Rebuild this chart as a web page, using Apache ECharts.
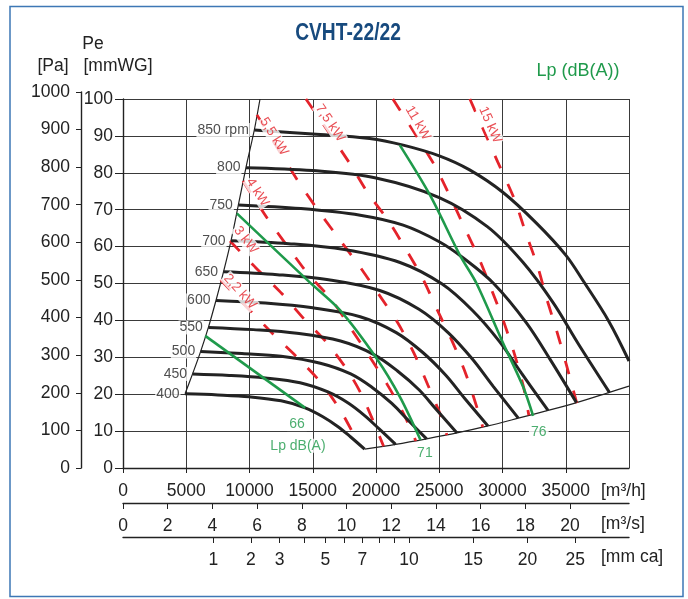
<!DOCTYPE html>
<html><head><meta charset="utf-8">
<script src="https://cdn.jsdelivr.net/npm/echarts@6.0.0/dist/echarts.min.js"></script>
<style>html,body{margin:0;padding:0;background:#fff}#c{width:688px;height:599px}</style>
</head><body><div id="c"></div>
<script>
// ---------- data ----------
const rpm = [400, 450, 500, 550, 600, 650, 700, 750, 800, 850];
const curve400 = [[4905,20.1],[7500,19.8],[10000,19.3],[12500,18.2],[14400,16.3],[15800,13.9],[17000,11.2],[18000,8.4],[19100,5.1]];
const curve450 = [[5500,25.5],[8400,25.1],[11250,24.4],[14000,23.1],[16200,20.6],[17800,17.6],[19100,14.2],[20250,10.6],[21550,6.4]];
const curve500 = [[6140,31.6],[9400,31.0],[12500,30.3],[15600,28.4],[18000,25.5],[19750,21.7],[21250,17.5],[22500,13.1],[24000,7.9]];
const curve550 = [[6750,38.1],[10300,37.5],[13750,36.5],[17200,34.4],[19800,30.8],[21700,26.3],[23400,21.2],[24750,15.9],[26400,9.5]];
const curve600 = [[7350,45.4],[11250,44.7],[15000,43.4],[18750,41.0],[21600,36.7],[23700,31.3],[25500,25.2],[27000,18.9],[28850,11.4]];
const curve650 = [[7950,53.2],[12200,52.4],[16250,51.0],[20300,48.1],[23400,43.0],[25700,36.7],[27600,29.6],[29250,22.2],[31250,13.5]];
const curve700 = [[8540,61.6],[13100,60.8],[17500,59.2],[21900,55.7],[25200,49.9],[27650,42.6],[29750,34.3],[31500,25.7],[33600,15.6]];
const curve750 = [[9120,71.3],[14060,70.3],[18750,68.5],[22150,65.8],[25000,61.3],[26900,56.9],[29300,50.0],[31875,39.4],[33750,29.5],[35850,17.7]];
const curve800 = [[9720,81.4],[15000,80.6],[20000,78.6],[25000,73.3],[28800,65.4],[31600,55.8],[34000,44.8],[36000,33.6],[38450,20.5]];
const curve850 = [[10380,91.6],[15000,90.5],[19500,89.3],[22150,87.5],[25000,84.6],[27400,80.8],[30000,74.8],[32700,66.3],[35000,57.7],[36400,50.6],[38400,39.8],[40000,29.0]];

const leftLimit = [[4905,20.1],[5500,25.5],[6140,31.6],[6750,38.1],[7350,45.4],[7950,53.2],[8540,61.6],[9120,71.3],[9720,81.4],[10380,91.6],[10830,100]];
const bottomLimit = [[19100,5.1],[21550,6.4],[24000,7.9],[26400,9.5],[28850,11.4],[31250,13.5],[33600,15.6],[35850,17.7],[38450,20.5],[40000,22.2]];

const lp66 = [[6500,35.8],[14400,16.3]];
const lp71 = [[9000,69.0],[14700,50.5],[17150,42.8],[20050,29.7],[21890,19.3],[23520,7.6]];
const lp76 = [[21880,87.5],[24260,74.0],[26630,57.7],[27950,50.0],[30050,33.8],[31630,22.0],[32420,14.1]];

const kw22 = [[7720,51.0],[11860,36.3],[13830,29.8],[15730,22.8],[17230,15.4],[18600,6.7]];
const kw3  = [[8460,61.5],[10435,54.5],[12570,47.2],[14310,40.4],[16130,33.9],[17780,26.3],[18960,19.2],[20600,5.9]];
const kw4  = [[9490,77.8],[11380,67.8],[13040,59.9],[14620,52.6],[16440,45.8],[17940,38.2],[19360,30.9],[20860,22.8],[22200,14.6],[23150,7.3]];
const kw55 = [[10590,95.7],[13830,77.8],[15570,69.1],[17150,61.8],[18730,54.5],[20150,47.4],[21730,39.3],[22990,31.2],[24100,22.5],[25130,14.1],[25600,8.9]];
const kw75 = [[14460,100],[17860,82.9],[19360,74.5],[20940,67.2],[22360,59.3],[23630,51.8],[24890,42.5],[26080,33.9],[27100,25.5],[27970,16.5],[28440,11.1]];
const kw11 = [[21330,100],[24570,82.4],[25840,73.7],[27020,65.0],[28130,56.9],[29150,48.2],[30100,39.6],[30970,30.6],[31680,21.7],[32080,14.3]];
const kw15 = [[27420,100],[29630,82.9],[30970,72.6],[31840,63.7],[32790,54.5],[33500,45.8],[34290,37.1],[35080,27.6],[35870,17.6]];

const kwNames = ['2,2 kW','3 kW','4 kW','5,5 kW','7,5 kW','11 kW','15 kW'];
const kwLabelAt = [[9250,47.8],[9710,61.8],[10630,74.7],[11940,89.8],[16360,93.5],[23310,93.5],[29020,93.0]];
const kwLabelAngle = [-48,-52,-57,-58,-56,-60,-66];

const lpNames = ['66','Lp dB(A)','71','76'];
const lpLabelAt = [[13754,11.9],[13833,6.0],[23866,4.1],[32870,9.8]];

const m3sTicks = [0,2,4,6,8,10,12,14,16,18,20];
const mmCaTicks = [1,2,3,4,5,6,7,8,9,10,15,20,25];
const mmCaLabels = [1,2,3,5,7,10,15,20,25];
const M3H_PER_M3S_UNIT = 1767;   // scale relation
const M3H_PER_SQRT_MMCA = 7150;  // velocity-pressure scale relation
const PA_PER_MMWG = 9.81;

// ---------- chart ----------
const FONT = "'Liberation Sans', Arial, Helvetica, sans-serif";
const TXT = '#222';
const RED = '#e4232b', GREEN = '#1f9a4b';
const FS = 17.5;

const curves = [curve400,curve450,curve500,curve550,curve600,curve650,curve700,curve750,curve800,curve850];
const kwLines = [kw22,kw3,kw4,kw55,kw75,kw11,kw15];
const lpLines = [lp66,lp71,lp76];

const series = [];
series.push({type:'line', data:leftLimit, smooth:0.3, showSymbol:false, symbol:'none', lineStyle:{color:'#222', width:1.2}, z:3});
series.push({type:'line', data:bottomLimit, smooth:0.3, showSymbol:false, symbol:'none', lineStyle:{color:'#222', width:1.2}, z:3});
kwLines.forEach(d => series.push({type:'line', data:d, smooth:0.25, showSymbol:false, symbol:'none',
  lineStyle:{color:RED, width:2.8, type:[14,17]}, z:4}));
curves.forEach(d => series.push({type:'line', data:d, smooth:0.35, showSymbol:false, symbol:'none',
  lineStyle:{color:'#232323', width:3}, z:5}));
lpLines.forEach(d => series.push({type:'line', data:d, smooth:0.3, showSymbol:false, symbol:'none',
  lineStyle:{color:GREEN, width:2.6}, z:6}));
series.push({type:'scatter', symbolSize:1, itemStyle:{color:'rgba(0,0,0,0)'}, z:10,
  data: curves.map((d,i) => ({value:d[0], name: i === curves.length-1 ? rpm[i] + ' rpm' : String(rpm[i])})),
  label:{show:true, position:'left', distance:4, formatter:'{b}', color:TXT, fontSize:14, fontFamily:FONT,
    backgroundColor:'#fff', padding:[0,1]}});
series.push({type:'scatter', symbolSize:1, itemStyle:{color:'rgba(0,0,0,0)'}, z:10,
  data: kwNames.map((n,i) => ({value:kwLabelAt[i], name:n, label:{rotate:kwLabelAngle[i]}})),
  label:{show:true, position:'inside', formatter:'{b}', color:RED, fontSize:13.5, fontFamily:FONT,
    backgroundColor:'#fff', padding:[0,1]}});
series.push({type:'scatter', symbolSize:1, itemStyle:{color:'rgba(0,0,0,0)'}, z:10,
  data: lpNames.map((n,i) => ({value:lpLabelAt[i], name:n})),
  label:{show:true, position:'inside', formatter:'{b}', color:GREEN, fontSize:14, fontFamily:FONT,
    backgroundColor:'#fff', padding:[0,2]}});

const axisLineStyle = {color:'#222', width:1.4};
const plain = v => String(Math.round(v * 1000) / 1000);
const labelStyle = {fontSize:FS, color:TXT, fontFamily:FONT};

const option = {
  animation:false,
  grid:[
    {left:123, top:99, width:506, height:369, containLabel:false, outerBoundsMode:'none'},
    {left:81, top:468 - 1000 / PA_PER_MMWG * 3.69, width:10, height:1000 / PA_PER_MMWG * 3.69, containLabel:false, outerBoundsMode:'none'}
  ],
  xAxis:[
    {gridIndex:0, type:'value', position:'bottom', min:0, max:40000, interval:5000,
      axisLine:{show:true, onZero:false, lineStyle:axisLineStyle},
      axisTick:{show:true, inside:false, length:5, lineStyle:{color:'#222'}},
      axisLabel:Object.assign({margin:14, showMaxLabel:false, formatter:plain}, labelStyle),
      splitLine:{show:true, lineStyle:{color:'#3a3a3a', width:1}}},
    {gridIndex:0, type:'value', position:'bottom', offset:35, min:0, max:40000 / M3H_PER_M3S_UNIT,
      axisLine:{show:true, onZero:false, lineStyle:axisLineStyle},
      axisTick:{show:true, inside:false, length:6, customValues:m3sTicks, lineStyle:{color:'#222'}},
      axisLabel:Object.assign({margin:14, customValues:m3sTicks, formatter:plain}, labelStyle),
      splitLine:{show:false}},
    {gridIndex:0, type:'value', position:'bottom', offset:69, min:0, max:40000,
      axisLine:{show:true, onZero:false, lineStyle:axisLineStyle},
      axisTick:{show:true, inside:false, length:6, customValues:mmCaTicks.map(p => M3H_PER_SQRT_MMCA * Math.sqrt(p)), lineStyle:{color:'#222'}},
      axisLabel:Object.assign({margin:14, customValues:mmCaLabels.map(p => M3H_PER_SQRT_MMCA * Math.sqrt(p)),
        formatter: v => String(Math.round(Math.pow(v / M3H_PER_SQRT_MMCA, 2)))}, labelStyle),
      splitLine:{show:false}},
    {gridIndex:1, type:'value', show:false, min:0, max:1}
  ],
  yAxis:[
    {gridIndex:0, type:'value', position:'left', min:0, max:100, interval:10,
      axisLine:{show:true, onZero:false, lineStyle:axisLineStyle},
      axisTick:{show:true, inside:false, length:8, lineStyle:{color:'#222'}},
      axisLabel:Object.assign({margin:10, formatter:plain}, labelStyle),
      splitLine:{show:true, lineStyle:{color:'#3a3a3a', width:1}}},
    {gridIndex:1, type:'value', position:'left', min:0, max:1000, interval:100,
      axisLine:{show:true, onZero:false, lineStyle:axisLineStyle},
      axisTick:{show:true, inside:false, length:5, lineStyle:{color:'#222'}},
      axisLabel:Object.assign({margin:11, formatter:plain}, labelStyle),
      splitLine:{show:false}}
  ],
  graphic:[
    {type:'rect', shape:{x:10, y:6.5, width:673, height:590}, style:{fill:'none', stroke:'#3d77b5', lineWidth:1.5}, silent:true},
    {type:'text', x:348, y:33, scaleX:0.8, style:{text:'CVHT-22/22', fill:'#174a7e', font:"bold 24px 'Liberation Sans', Arial, sans-serif", textAlign:'center', textVerticalAlign:'middle'}},
    {type:'text', x:93, y:44, style:{text:'Pe', fill:TXT, font:FS + 'px ' + FONT, textAlign:'center', textVerticalAlign:'middle'}},
    {type:'text', x:53, y:66, style:{text:'[Pa]', fill:TXT, font:FS + 'px ' + FONT, textAlign:'center', textVerticalAlign:'middle'}},
    {type:'text', x:118, y:66, style:{text:'[mmWG]', fill:TXT, font:FS + 'px ' + FONT, textAlign:'center', textVerticalAlign:'middle'}},
    {type:'text', x:578, y:71, style:{text:'Lp (dB(A))', fill:GREEN, font:'18px ' + FONT, textAlign:'center', textVerticalAlign:'middle'}},
    {type:'text', x:601, y:491, style:{text:'[m³/h]', fill:TXT, font:FS + 'px ' + FONT, textAlign:'left', textVerticalAlign:'middle'}},
    {type:'text', x:601, y:524, style:{text:'[m³/s]', fill:TXT, font:FS + 'px ' + FONT, textAlign:'left', textVerticalAlign:'middle'}},
    {type:'text', x:601, y:557, style:{text:'[mm ca]', fill:TXT, font:FS + 'px ' + FONT, textAlign:'left', textVerticalAlign:'middle'}}
  ],
  series: series
};
const chart = echarts.init(document.getElementById('c'), null, {renderer:'canvas'});
chart.setOption(option);
</script></body></html>
